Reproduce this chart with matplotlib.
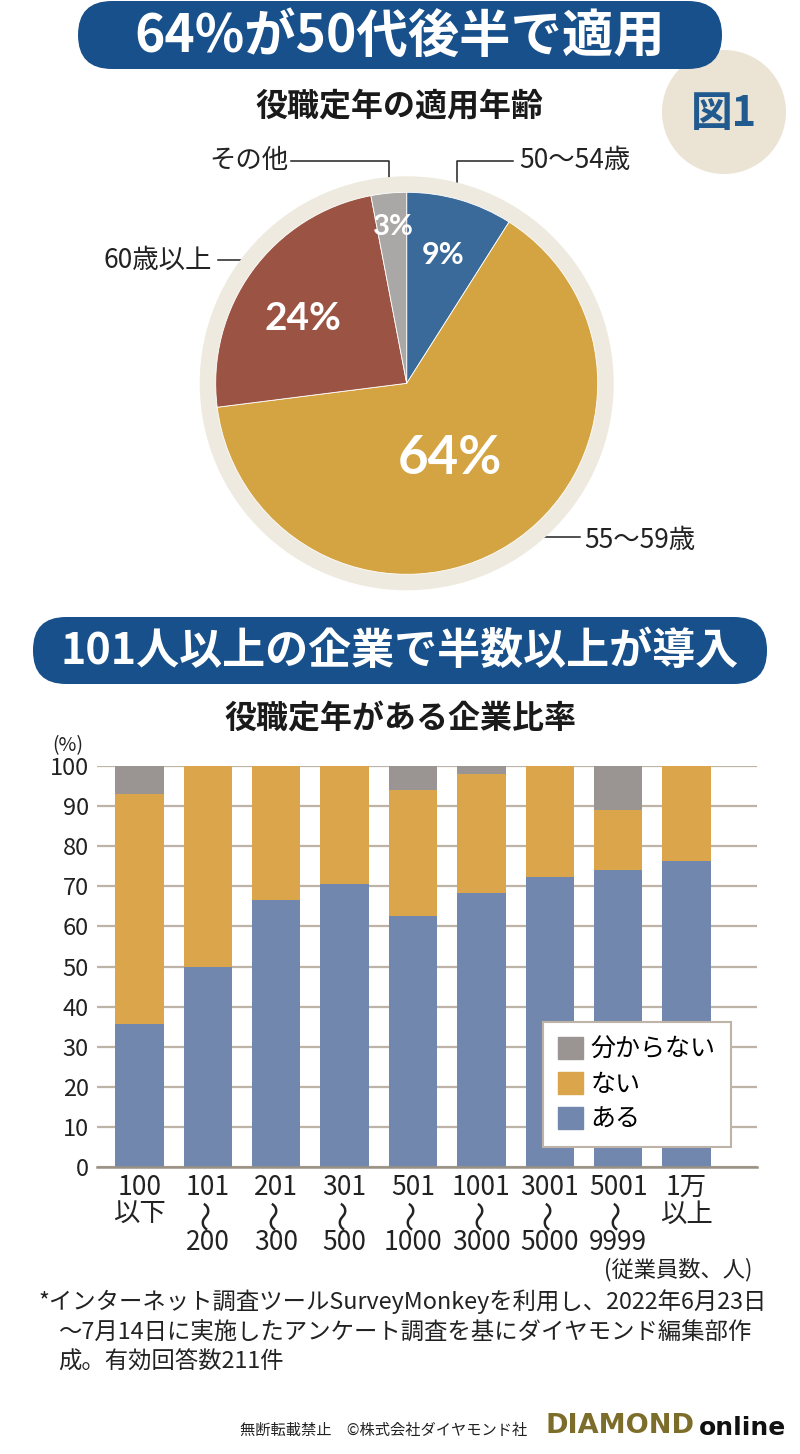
import numpy as np
import matplotlib
matplotlib.use("Agg")
import matplotlib.pyplot as plt
from matplotlib.patches import FancyBboxPatch, Circle, Patch

plt.rcParams['font.family'] = ['Noto Sans CJK JP', 'DejaVu Sans']

# Pie data
pie_labels = ['50～54歳', '55～59歳', '60歳以上', 'その他']
pie_values = [9, 64, 24, 3]
pie_colors = ['#3a6a9a', '#d4a443', '#9b5343', '#aaa8a6']

# Bar data
bar_top = ['100', '101', '201', '301', '501', '1001', '3001', '5001', '1万']
bar_bottom = ['以下', '200', '300', '500', '1000', '3000', '5000', '9999', '以上']
bar_range = [False, True, True, True, True, True, True, True, False]
aru = [35.7, 50.0, 66.7, 70.6, 62.6, 68.3, 72.2, 74.1, 76.4]
nai = [57.3, 50.0, 33.3, 29.4, 31.4, 29.6, 27.8, 15.0, 23.6]
wakaranai = [7.0, 0.0, 0.0, 0.0, 6.0, 2.1, 0.0, 10.9, 0.0]
bar_colors = {'ある': '#7287ad', 'ない': '#dba54b', '分からない': '#9a9592'}

W, H = 800, 1454
fig = plt.figure(figsize=(W / 100, H / 100), dpi=100)

# background axis in pixel coordinates
bg = fig.add_axes([0, 0, 1, 1])
bg.set_xlim(0, W)
bg.set_ylim(H, 0)
bg.axis('off')

def px_axes(x0, y0, x1, y1):
    return fig.add_axes([x0 / W, 1 - y1 / H, (x1 - x0) / W, (y1 - y0) / H])

navy = '#17508a'
ink = '#222222'

# banner 1
bg.add_patch(FancyBboxPatch((78, 1), 644, 68, boxstyle='round,pad=0,rounding_size=34',
                            fc=navy, ec='none', zorder=2))
bg.text(400, 36, '64%が50代後半で適用', color='white', fontsize=37, fontweight='bold',
        ha='center', va='center', zorder=3)

# 図1 circle
bg.add_patch(Circle((724, 112), 62, fc='#ebe4d5', ec='none', zorder=1))
bg.text(724, 114, '図1', color='#215a8e', fontsize=30, fontweight='bold',
        ha='center', va='center', zorder=3)

bg.text(399, 106, '役職定年の適用年齢', fontsize=23, fontweight='bold',
        ha='center', va='center', color='#1a1a1a')

# pie (axes data units = pixels, centred on pie)
cx, cy, R = 406.7, 383.3, 215
pax = px_axes(cx - R, cy - R, cx + R, cy + R)
pax.add_patch(Circle((0, 0), 207, fc='#eeeadf', ec='none', zorder=0))
wedges, _ = pax.pie(pie_values, colors=pie_colors, startangle=90, counterclock=False,
                    radius=191, wedgeprops=dict(edgecolor='white', linewidth=0.6))
pax.set_xlim(-R, R)
pax.set_ylim(-R, R)
pax.set_aspect('equal')
pax.axis('off')

pct_font = ['Lato', 'DejaVu Sans']
pct_pos = [(443, 255, 22), (450, 459, 38), (303, 319, 28), (393, 227, 21)]
for v, (x, y, fs) in zip(pie_values, pct_pos):
    pax.text(x - cx, cy - y, f'{v}%', color='white', fontsize=fs, fontweight='bold',
             family=pct_font, ha='center', va='center', zorder=5)

# pie leader lines and labels
lc = '#222222'
bg.plot([291, 389, 389], [161, 161, 200], color=lc, lw=1.1, zorder=5)
bg.text(288, 160, pie_labels[3], fontsize=19, ha='right', va='center', color=ink)
bg.plot([513, 457, 457], [161, 161, 208], color=lc, lw=1.1, zorder=5)
bg.text(519, 160, pie_labels[0], fontsize=19, ha='left', va='center', color=ink)
bg.plot([218, 276], [260, 260], color=lc, lw=1.1, zorder=5)
bg.text(212, 260, pie_labels[2], fontsize=19, ha='right', va='center', color=ink)
bg.plot([500, 580], [537, 537], color=lc, lw=1.1, zorder=5)
bg.text(584, 541, pie_labels[1], fontsize=19, ha='left', va='center', color=ink)

# banner 2
bg.add_patch(FancyBboxPatch((33, 617), 734, 67, boxstyle='round,pad=0,rounding_size=33',
                            fc=navy, ec='none', zorder=2))
bg.text(400, 651, '101人以上の企業で半数以上が導入', color='white', fontsize=31,
        fontweight='bold', ha='center', va='center', zorder=3)

bg.text(400, 720, '役職定年がある企業比率', fontsize=23, fontweight='bold',
        ha='center', va='center', color='#1a1a1a')
bg.text(68, 746, '(%)', fontsize=14, ha='center', va='center', color=ink)

# bar chart
bax = px_axes(97, 766, 757, 1167)
x = np.arange(len(bar_top))
bw = 0.708
aru = np.array(aru)
nai = np.array(nai)
wakaranai = np.array(wakaranai)
bax.bar(x, aru, bw, color=bar_colors['ある'], zorder=2, label='ある')
bax.bar(x, nai, bw, bottom=aru, color=bar_colors['ない'], zorder=2, label='ない')
bax.bar(x, wakaranai, bw, bottom=aru + nai, color=bar_colors['分からない'], zorder=2,
        label='分からない')
bax.set_xlim(-0.62, 9.03)
bax.set_ylim(0, 100)
bax.set_yticks(np.arange(0, 101, 10))
bax.yaxis.grid(True, color='#bdb4a7', lw=1.6, zorder=0)
bax.set_axisbelow(True)
for s in ['top', 'right', 'left']:
    bax.spines[s].set_visible(False)
bax.spines['bottom'].set_color('#9a9185')
bax.spines['bottom'].set_linewidth(1.8)
bax.spines['bottom'].set_zorder(3)
bax.tick_params(axis='y', length=0, pad=6, labelsize=17, labelcolor=ink)
bax.set_xticks(x)
bax.set_xticklabels([])
bax.tick_params(axis='x', length=0)
bax.patch.set_alpha(0)

# category labels: top line, vertical wave dash, bottom line
tr = bax.get_xaxis_transform()
for i in x:
    bax.text(i, -0.05, bar_top[i], transform=tr, fontsize=19, ha='center', va='center',
             color=ink, clip_on=False)
    if bar_range[i]:
        bax.text(i, -0.119, '〜', transform=tr, fontsize=22, rotation=90, ha='center',
                 va='center', color=ink, clip_on=False)
        bax.text(i, -0.1895, bar_bottom[i], transform=tr, fontsize=19, ha='center',
                 va='center', color=ink, clip_on=False)
    else:
        bax.text(i, -0.119, bar_bottom[i], transform=tr, fontsize=19, ha='center',
                 va='center', color=ink, clip_on=False)

handles = [Patch(color=bar_colors[k]) for k in ['分からない', 'ない', 'ある']]
leg = bax.legend(handles, ['分からない', 'ない', 'ある'], loc='upper left',
                 bbox_to_anchor=(0.676, 0.362), borderaxespad=0, fontsize=18, frameon=True,
                 fancybox=False, framealpha=1, edgecolor='#bdb4a7', handlelength=1.0,
                 handleheight=1.0, handletextpad=0.3, labelspacing=0.35, borderpad=0.6)
leg.get_frame().set_linewidth(1.5)
leg.set_zorder(5)

bg.text(752, 1270, '(従業員数、人)', fontsize=16, ha='right', va='center', color=ink)

# footnote
fn = ['*インターネット調査ツールSurveyMonkeyを利用し、2022年6月23日',
      '～7月14日に実施したアンケート調査を基にダイヤモンド編集部作',
      '成。有効回答数211件']
bg.text(38, 1302, fn[0], fontsize=16.8, ha='left', va='center', color=ink)
bg.text(58, 1333, fn[1], fontsize=16.8, ha='left', va='center', color=ink)
bg.text(58, 1362, fn[2], fontsize=16.8, ha='left', va='center', color=ink)

bg.text(240, 1430, '無断転載禁止　©株式会社ダイヤモンド社', fontsize=11, ha='left',
        va='center', color=ink)
bg.text(545, 1426, 'DIAMOND', fontsize=19.5, fontweight='bold', color='#7d6d2a',
        family=['DejaVu Sans'], ha='left', va='center')
bg.text(786, 1428, 'online', fontsize=18, fontweight='bold', color='#111111',
        family=['DejaVu Sans'], ha='right', va='center')

fig.savefig('out.png', dpi=100)
